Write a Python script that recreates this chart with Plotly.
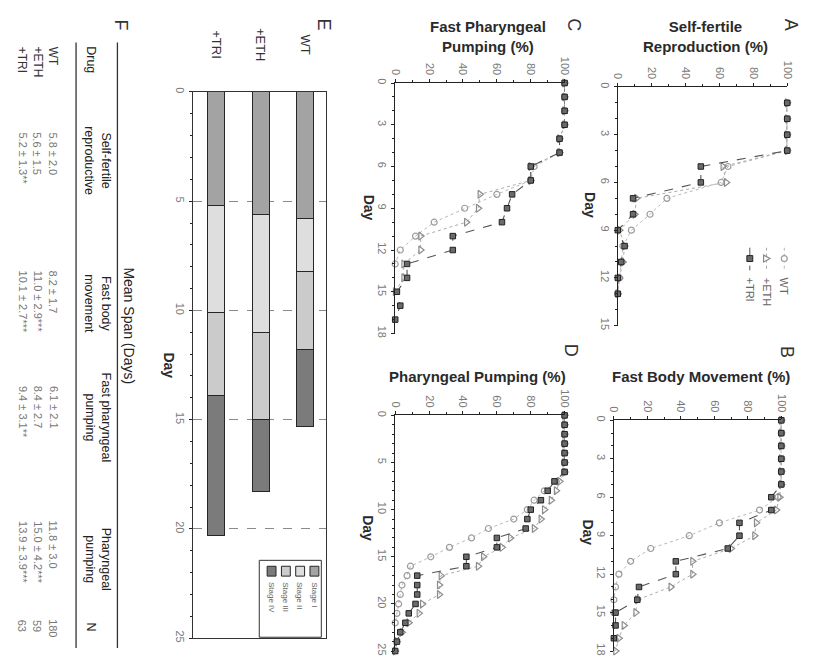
import plotly.graph_objects as go

# The page body has an 8px margin, so the figure is drawn 8px in from the
# window edge; positions below are given in window pixels and shifted here.
OFF = 8
W, H = 817 - 2 * OFF, 668 - 2 * OFF
FONT = "Liberation Sans, Arial, sans-serif"


def fx(p):
    return (p - OFF) / W


def fy(p):
    return 1 - (p - OFF) / H


# ------------------------------------------------------------------ data
series = ["WT", "+ETH", "+TRI"]

# Panel A: self-fertile reproduction (%)
days_A = [1, 2, 3, 4, 5, 6, 7, 8, 9, 10, 11, 12, 13]
repro_WT = [100, 100, 100, 100, 65, 61, 29, 19, 8, 3, 2, 1, 0]
repro_ETH = [100, 100, 100, 100, 62, 64, 11, 10, 1, 4, 3, 1, 0]
repro_TRI = [100, 100, 100, 100, 49, 49, 9, 9, 0, 4, 2, 0, 0]

# Panel B: fast body movement (%)
days_B = [0, 1, 2, 3, 4, 5, 6, 7, 8, 9, 10, 11, 12, 13, 14, 15, 16, 17, 18]
body_WT = [100, 100, 100, 100, 100, 100, 98, 87, 63, 45, 22, 10, 3, 1, 0, 0]
body_ETH = [100, 100, 100, 100, 100, 100, 99, 97, 85, 84, 70, 47, 47, 34, 14, 13, 6, 3, 1]
body_TRI = [100, 100, 100, 100, 100, 100, 94, 94, 75, 75, 68, 37, 37, 15, 14, 1, 1, 0]

# Panel C: fast pharyngeal pumping (%)
days_C = [0, 1, 2, 3, 4, 5, 6, 7, 8, 9, 10, 11, 12, 13, 14, 15, 16, 17]
fastpump_WT = [100, 100, 100, 100, 97, 97, 82, 80, 60, 41, 23, 12, 3, 0]
fastpump_ETH = [100, 100, 100, 100, 97, 97, 80, 80, 50, 49, 42, 15, 15, 5, 5, 0]
fastpump_TRI = [100, 100, 100, 100, 97, 97, 80, 80, 69, 66, 63, 34, 34, 7, 7, 1, 3, 0]

# Panel D: pharyngeal pumping (%)
days_D = [0, 1, 2, 3, 4, 5, 6, 7, 8, 9, 10, 11, 12, 13, 14, 15, 16, 17, 18,
          19, 20, 21, 22, 23, 24, 25]
pump_WT = [100, 100, 100, 100, 100, 100, 100, 95, 88, 82, 78, 70, 55, 45, 32,
           21, 9, 7, 4, 3, 2, 1, 0]
pump_ETH = [100, 100, 100, 100, 100, 100, 100, 97, 95, 92, 88, 86, 82, 68, 63,
            52, 49, 27, 26, 26, 16, 14, 8, 4, 1, 0]
pump_TRI = [100, 100, 100, 100, 100, 100, 100, 94, 90, 86, 80, 78, 77, 60, 60,
            42, 42, 13, 13, 13, 12, 8, 6, 3, 1, 0]

# Panel E: stage durations (days)
groups_E = ["+TRI", "+ETH", "WT"]
stage_names = ["Stage I", "Stage II", "Stage III", "Stage IV"]
stage_I = [5.2, 5.6, 5.8]
stage_II = [4.9, 5.4, 2.4]
stage_III = [3.8, 4.0, 3.6]
stage_IV = [6.4, 3.3, 3.5]

# Panel F: table
table_drugs = ["WT", "+ETH", "+TRI"]
table_headers = ["Self-fertile<br>reproductive", "Fast body<br>movement",
                 "Fast pharyngeal<br>pumping", "Pharyngeal<br>pumping"]
span_repro = ["5.8 ± 2.0", "5.6 ± 1.5", "5.2 ± 1.3**"]
span_body = ["8.2 ± 1.7", "11.0 ± 2.9***", "10.1 ± 2.7***"]
span_fastpump = ["6.1 ± 2.1", "8.4 ± 2.7", "9.4 ± 3.1**"]
span_pump = ["11.8 ± 3.0", "15.0 ± 4.2***", "13.9 ± 3.9***"]
table_N = ["180", "59", "63"]

# ------------------------------------------------------------------ styles
styles = {
    "WT": dict(line=dict(color="#b8b8b8", width=1, dash="dot"),
               marker=dict(symbol="circle-open", size=6, color="#9c9c9c",
                           line=dict(width=1.2))),
    "+ETH": dict(line=dict(color="#ababab", width=1, dash="dot"),
                 marker=dict(symbol="triangle-right-open", size=7, color="#8c8c8c",
                             line=dict(width=1.2))),
    "+TRI": dict(line=dict(color="#555555", width=1.1, dash="dash"),
                 marker=dict(symbol="square", size=5.5, color="#6a6a6a",
                             line=dict(color="#222222", width=1))),
}

fig = go.Figure()

panels = [
    ("x", "y", days_A, {"WT": repro_WT, "+ETH": repro_ETH, "+TRI": repro_TRI}),
    ("x2", "y2", days_B, {"WT": body_WT, "+ETH": body_ETH, "+TRI": body_TRI}),
    ("x3", "y3", days_C, {"WT": fastpump_WT, "+ETH": fastpump_ETH, "+TRI": fastpump_TRI}),
    ("x4", "y4", days_D, {"WT": pump_WT, "+ETH": pump_ETH, "+TRI": pump_TRI}),
]
for xa, ya, days, data in panels:
    for name in series:
        vals = data[name]
        fig.add_trace(go.Scatter(x=vals, y=days[:len(vals)], mode="lines+markers",
                                 name=name, xaxis=xa, yaxis=ya, cliponaxis=False,
                                 showlegend=False, **styles[name]))

stage_values = [stage_I, stage_II, stage_III, stage_IV]
stage_colors = ["#a3a3a3", "#dedede", "#cbcbcb", "#7b7b7b"]
for nm, vals, col in zip(stage_names, stage_values, stage_colors):
    fig.add_trace(go.Bar(x=groups_E, y=vals, name=nm, xaxis="x5", yaxis="y5",
                         width=0.38, marker=dict(color=col, line=dict(color="#262626", width=1)),
                         showlegend=False))

# ------------------------------------------------------------------ axes
tick_font = dict(size=11, color="#7a7a7a", family=FONT)
pct_axis = dict(range=[0, 100], side="top", showline=True, linecolor="#222",
                linewidth=1, ticks="outside", ticklen=3, tickcolor="#222",
                tickvals=[0, 20, 40, 60, 80, 100], tickangle=90, tickfont=tick_font,
                showgrid=False, zeroline=False,
                minor=dict(ticks="outside", ticklen=2, dtick=10, tickcolor="#222"))
day_axis = dict(side="left", showline=True, linecolor="#222", linewidth=1,
                ticks="outside", ticklen=3, tickcolor="#222", tickangle=90,
                tickfont=tick_font, showgrid=False, zeroline=False,
                minor=dict(ticks="outside", ticklen=2, dtick=1, tickcolor="#222"))

layout_axes = dict(
    xaxis=dict(pct_axis, domain=[fx(621), fx(793)], anchor="y"),
    yaxis=dict(day_axis, domain=[fy(325), fy(83)], anchor="x", range=[15, 0],
               tickvals=[0, 3, 6, 9, 12, 15]),
    xaxis2=dict(pct_axis, domain=[fx(617), fx(787)], anchor="y2"),
    yaxis2=dict(day_axis, domain=[fy(655), fy(421)], anchor="x2", range=[18, 0],
                tickvals=[0, 3, 6, 9, 12, 15, 18]),
    xaxis3=dict(pct_axis, domain=[fx(395), fx(567)], anchor="y3"),
    yaxis3=dict(day_axis, domain=[fy(333), fy(79)], anchor="x3", range=[18, 0],
                tickvals=[0, 3, 6, 9, 12, 15, 18]),
    xaxis4=dict(pct_axis, domain=[fx(395), fx(567)], anchor="y4"),
    yaxis4=dict(day_axis, domain=[fy(655), fy(416)], anchor="x4", range=[25, 0],
                tickvals=[0, 5, 10, 15, 20, 25]),
    xaxis5=dict(domain=[fx(190), fx(325)], anchor="y5", type="category",
                range=[-0.52, 2.48], side="top", showline=True, mirror=True,
                linecolor="#333", linewidth=1, ticks="", showticklabels=False,
                showgrid=False, zeroline=False),
    yaxis5=dict(domain=[fy(642), fy(88)], anchor="x5", range=[25, 0], side="left",
                tickvals=[0, 5, 10, 15, 20, 25], tickangle=90, tickfont=tick_font,
                showline=True, mirror=True, linecolor="#333", linewidth=1,
                ticks="outside", ticklen=3, tickcolor="#222",
                showgrid=True, gridcolor="#8a8a8a", griddash="dash", gridwidth=0.8,
                zeroline=False,
                minor=dict(ticks="outside", ticklen=2, dtick=1, tickcolor="#222")),
)

# ------------------------------------------------------------------ annotations
ann = []


def text(px, py, s, size=12, color="#222", xa="center", ya="middle", angle=90,
         weight="normal", **kw):
    ann.append(dict(x=fx(px), y=fy(py), xref="paper", yref="paper", text=s,
                    showarrow=False, textangle=angle, xanchor=xa, yanchor=ya,
                    font=dict(size=size, color=color, family=FONT, weight=weight), **kw))


# panel letters
for lab, px, py in [("A", 797, 20), ("C", 577, 20), ("E", 323, 20), ("F", 117, 20),
                    ("B", 793, 352), ("D", 573, 350)]:
    text(px, py, lab, size=18, color="#333")

# panel titles (horizontal)
TW = "bold"
text(710, 32, "Self-fertile<br>Reproduction (%)", size=15, color="#2a2a2a", angle=0, weight=TW)
text(489, 32, "Fast Pharyngeal<br>Pumping (%)", size=15, color="#2a2a2a", angle=0, weight=TW)
text(705, 377, "Fast Body Movement (%)", size=15, color="#2a2a2a", angle=0, weight=TW)
text(479, 377, "Pharyngeal Pumping (%)", size=15, color="#2a2a2a", angle=0, weight=TW)

# Day axis titles
for px, py in [(592, 203), (591, 535), (368, 205), (368, 530), (165, 365)]:
    text(px, py, "Day", size=14, color="#2a2a2a", weight=TW)

# E category labels through the category axis
for g in groups_E:
    ann.append(dict(x=g, y=fy(40), xref="x5", yref="paper", text=g, showarrow=False,
                    textangle=90, xanchor="center", yanchor="middle",
                    font=dict(size=13, color="#333", family=FONT)))

# A legend (rotated)
shapes = []
leg_x = {"WT": 790, "+ETH": 772, "+TRI": 755}
for name in series:
    x = leg_x[name]
    st = styles[name]
    shapes.append(dict(type="line", xref="paper", yref="paper", x0=fx(x), x1=fx(x),
                       y0=fy(246), y1=fy(269),
                       line=dict(color=st["line"]["color"], width=1,
                                 dash=st["line"].get("dash", "solid"))))
    text(x, 274, name, size=11, color="#666", ya="top")
cx, cy = 790, 257
shapes.append(dict(type="circle", xref="paper", yref="paper", x0=fx(cx - 3), x1=fx(cx + 3),
                   y0=fy(cy + 3), y1=fy(cy - 3), line=dict(color="#9c9c9c", width=1.2),
                   fillcolor="white"))
cx = 772
shapes.append(dict(type="path", xref="paper", yref="paper",
                   path="M %f,%f L %f,%f L %f,%f Z" % (fx(cx - 3), fy(cy - 3.5), fx(cx + 3.5), fy(cy),
                                                      fx(cx - 3), fy(cy + 3.5)),
                   line=dict(color="#8c8c8c", width=1.2), fillcolor="white"))
cx = 755
shapes.append(dict(type="rect", xref="paper", yref="paper", x0=fx(cx - 3), x1=fx(cx + 3),
                   y0=fy(cy + 3), y1=fy(cy - 3), line=dict(color="#222", width=1),
                   fillcolor="#6a6a6a"))

# E legend box
shapes.append(dict(type="rect", xref="paper", yref="paper", x0=fx(257), x1=fx(320),
                   y0=fy(641), y1=fy(563), line=dict(color="#333", width=1),
                   fillcolor="white"))
for i, (nm, col) in enumerate(zip(stage_names, stage_colors)):
    x = 313 - 14.5 * i
    shapes.append(dict(type="rect", xref="paper", yref="paper", x0=fx(x - 4.5),
                       x1=fx(x + 4.5), y0=fy(579), y1=fy(569),
                       line=dict(color="#262626", width=1), fillcolor=col))
    text(x, 583, nm, size=8, color="#666", ya="top")

# F table
text(125, 325, "Mean Span (Days)", size=14, color="#222")
shapes.append(dict(type="line", xref="paper", yref="paper", x0=fx(113), x1=fx(113),
                   y0=fy(38), y1=fy(652), line=dict(color="#333", width=1.3)))
shapes.append(dict(type="line", xref="paper", yref="paper", x0=fx(71), x1=fx(71),
                   y0=fy(38), y1=fy(652), line=dict(color="#333", width=1.3)))
text(86, 40, "Drug", size=12.5, ya="top")
for hdr, py in zip(table_headers, [158, 303, 418, 562]):
    text(93, py, hdr, size=12.5)
text(86, 631, "N", size=12.5)
cols = [span_repro, span_body, span_fastpump, span_pump, table_N]
col_starts = [127, 267, 384, 521, 621]
for r, (drug, px) in enumerate(zip(table_drugs, [48, 32, 17])):
    text(px, 40, drug, size=12, color="#333", ya="top")
    for c, start in zip(cols, col_starts):
        text(px, start, c[r], size=11, color="#777", ya="top")

fig.update_layout(
    width=W, height=H, margin=dict(l=0, r=0, t=0, b=0),
    paper_bgcolor="white", plot_bgcolor="white", barmode="stack",
    showlegend=False, annotations=ann, shapes=shapes,
    font=dict(family=FONT), **layout_axes)

fig.write_html("out.html")
